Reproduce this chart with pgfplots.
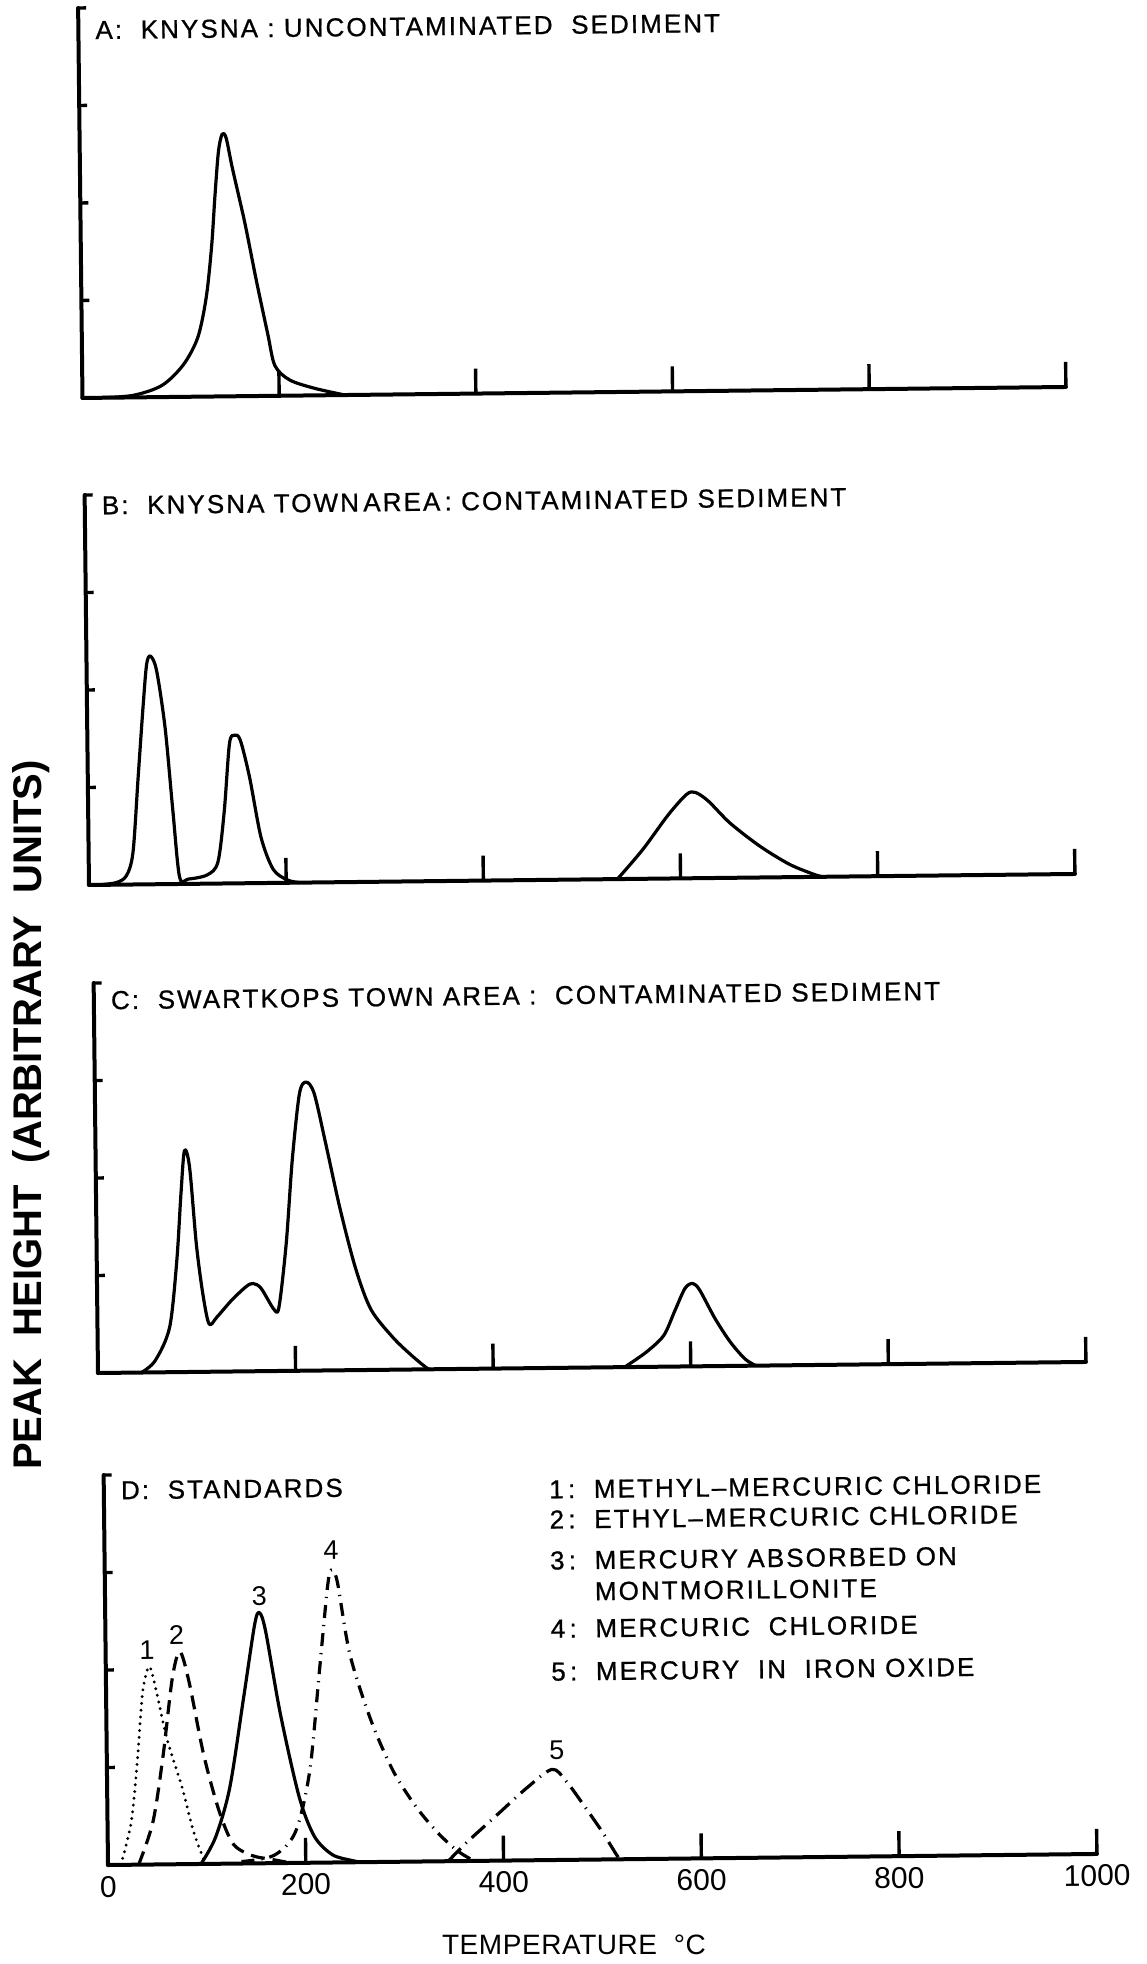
\documentclass[border=0pt]{standalone}
\usepackage{fontspec}
\setmainfont{Liberation Sans}
\newfontfamily\tfam{Liberation Sans}[LetterSpace=8, FakeBold=0.8]
\usepackage{pgfplots}
\pgfplotsset{compat=1.18}
\newcommand\tf{\tfam\fontsize{13}{15}\selectfont}
\pgfplotsset{
  panel/.style={
    scale only axis, height=195pt, anchor=south west,
    xmin=0, xmax=1000, ymin=0, ymax=4,
    axis lines=left, axis line style={-, line width=2pt, line cap=round},
    xtick={200,400,600,800,1000}, ytick={1,2,3,4},
    xticklabels={}, yticklabels={},
    tick align=inside,
    xtick style={line width=1.7pt, black, /pgfplots/major tick length=12.5pt},
    ytick style={line width=1.7pt, black, /pgfplots/major tick length=4pt},
    clip=false,
  },
}
\tikzset{
  curve/.style={black, line width=1.6pt, smooth, tension=0.5, line join=round},
  ttl/.style={anchor=base west, inner sep=0pt, font=\tf},
  pk/.style={font=\fontsize{13.5}{15}\selectfont},
}
\begin{document}
\begin{tikzpicture}
\useasboundingbox (0,0) rectangle (573pt,982pt);
\begin{scope}[rotate around={0.64:(286.5pt,491pt)}]
% Panel A
\begin{axis}[panel, width=491.75pt, at={(44.51pt,785.74pt)}]
\addplot[curve] coordinates {(14,0) (51,0.02) (81,0.12) (103,0.33) (118,0.61) (127,1.02) (133,1.54) (137,2.06) (141,2.51) (145,2.69) (149,2.65) (155,2.34) (167,1.78) (178,1.19) (189,0.64) (196,0.31) (211,0.16) (237,0.07) (267,0.0)};
\node[ttl] at (axis cs:17,3.68) {A:\ \ KNYSNA\ :\ UNCONTAMINATED\ \ SEDIMENT};
\end{axis}
% Panel B
\begin{axis}[panel, width=493pt, at={(45.04pt,542.2pt)}]
\addplot[curve] coordinates {(8,0) (27,0.02) (38,0.09) (45,0.33) (51,1.09) (57,1.84) (61,2.26) (65,2.34) (71,2.19) (79,1.6) (86,0.74) (92,0.07) (101,0.05) (120,0.09) (131,0.22) (138,0.74) (144,1.43) (149,1.52) (155,1.47) (164,1.09) (175,0.47) (187,0.14) (201,0.03) (213,0)};
\addplot[curve] coordinates {(536,0) (562,0.3) (588,0.65) (607,0.86) (616,0.88) (629,0.79) (651,0.56) (681,0.32) (711,0.13) (737,0.02) (745,0)};
\node[ttl] at (axis cs:17,3.80) {B:\ \ KNYSNA\ TOWN\,AREA\,:\ CONTAMINATED\ SEDIMENT};
\end{axis}
% Panel C
\begin{axis}[panel, width=494pt, at={(46.82pt,298.15pt)}]
\addplot[curve] coordinates {(44,0) (58,0.12) (73,0.46) (81,1.14) (86,1.83) (90,2.27) (95,2.1) (101,1.31) (107,0.8) (113,0.49) (121,0.56) (136,0.73) (151,0.87) (158,0.9) (166,0.85) (179,0.63) (184,0.66) (192,1.31) (199,2.16) (207,2.84) (214,2.96) (222,2.84) (233,2.33) (247,1.65) (262,1.04) (277,0.62) (299,0.33) (317,0.15) (332,0.02) (336,0)};
\addplot[curve] coordinates {(533,0) (555,0.15) (573,0.32) (584,0.56) (595,0.8) (603,0.85) (610,0.78) (625,0.49) (640,0.25) (655,0.07) (666,0)};
\node[ttl] at (axis cs:17,3.73) {C:\ \ SWARTKOPS\ TOWN\ AREA\ :\ \ CONTAMINATED\ SEDIMENT};
\end{axis}
% Panel D
\begin{axis}[panel, width=494.5pt, at={(49.07pt,52.1pt)},
  xtick={0,200,400,600,800,1000}, xticklabels={0,200,400,600,800,1000},
  xticklabel style={font=\fontsize{15}{17}\selectfont, yshift=-2pt}]
\addplot[curve, dash pattern=on 0pt off 3.4pt, line cap=round] coordinates {(13,0) (24,0.44) (31,1.08) (37,1.77) (44,2.03) (51,1.77) (61,1.29) (76,0.78) (87,0.33) (98,0.03) (104,0)};
\addplot[curve, dash pattern=on 7pt off 4pt] coordinates {(31,0) (46,0.44) (57,1.12) (67,1.9) (75,2.18) (84,1.87) (98,1.12) (113,0.54) (127,0.2) (146,0.08) (165,0.04) (185,0)};
\addplot[curve] coordinates {(94,0) (109,0.27) (124,0.78) (139,1.7) (151,2.45) (156,2.57) (162,2.38) (176,1.53) (194,0.68) (209,0.27) (227,0.08) (246,0.02) (256,0)};
\addplot[curve, dash pattern=on 6.5pt off 3.5pt on 0.6pt off 3.5pt] coordinates {(135,0.02) (168,0.08) (190,0.32) (205,0.94) (216,1.97) (225,2.82) (229,3.0) (235,2.88) (247,2.13) (268,1.44) (290,0.92) (313,0.55) (335,0.28) (353,0.11) (365,0.03) (372,0)};
\addplot[curve, dash pattern=on 9pt off 3.5pt on 0.6pt off 3.5pt] coordinates {(344,0) (364,0.2) (394,0.47) (424,0.74) (450,0.93) (464,0.81) (483,0.54) (501,0.27) (516,0.02) (520,0)};
\node[pk] at (axis cs:42,2.20) {1};
\node[pk] at (axis cs:72,2.35) {2};
\node[pk] at (axis cs:156,2.74) {3};
\node[pk] at (axis cs:229,3.20) {4};
\node[pk] at (axis cs:455,1.13) {5};
\node[ttl] at (axis cs:17,3.75) {D:\ \ STANDARDS};
\node[ttl] at (axis cs:450,3.71) {1\,:\ \ METHYL–MERCURIC\ CHLORIDE};
\node[ttl] at (axis cs:450,3.40) {2\,:\ \ ETHYL–MERCURIC\ CHLORIDE};
\node[ttl] at (axis cs:450,2.98) {3\,:\ \ MERCURY\ ABSORBED\ ON};
\node[ttl] at (axis cs:495,2.66) {MONTMORILLONITE};
\node[ttl] at (axis cs:450,2.28) {4\,:\ \ MERCURIC\ \ CHLORIDE};
\node[ttl] at (axis cs:450,1.84) {5\,:\ \ MERCURY\ \ IN\ \ IRON\ OXIDE};
\end{axis}
\node[rotate=90, font=\fontsize{20}{24}\selectfont\bfseries] at (14.8pt,427.5pt) {PEAK\ \ HEIGHT\ \ (ARBITRARY\ \ UNITS)};
\node[font=\fontsize{14}{16}\selectfont\addfontfeature{LetterSpace=2}] at (281.6pt,9.5pt) {TEMPERATURE\ \ °C};
\end{scope}
\end{tikzpicture}
\end{document}
